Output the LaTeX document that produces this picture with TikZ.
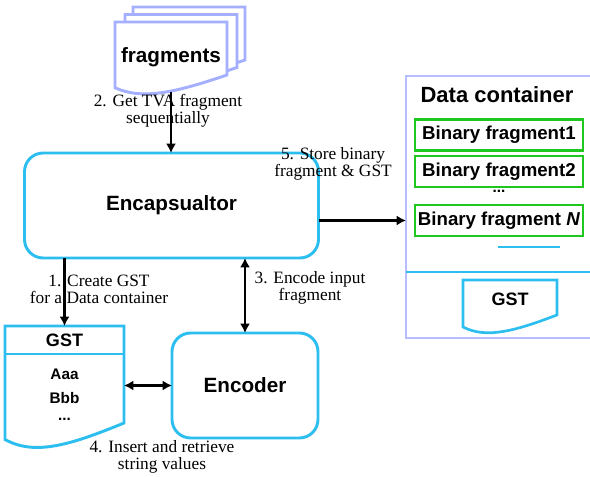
\documentclass[tikz,border=0pt]{standalone}
\usepackage{fontspec}
\setmainfont{Liberation Serif}
\newfontfamily\boxfont{Liberation Sans}
\usetikzlibrary{positioning, arrows.meta, calc}

\definecolor{sheetblue}{RGB}{165,175,255}
\definecolor{dcblue}{RGB}{182,190,255}
\definecolor{boxcyan}{RGB}{45,190,240}
\definecolor{bingreen}{RGB}{30,200,30}

% wavy-bottom document outline round a node: #1 node, #2 draw options, #3 rise of the right end
\newcommand{\docoutline}[3]{%
  \draw[#2] ($(#1.south west)+(0,-0.25*#3)$) -- (#1.north west) -- (#1.north east)
    -- ($(#1.south east)+(0,-#3)$)
    .. controls ($(#1.south west)!0.55!(#1.south east)$)
    and ($(#1.south west)!0.25!(#1.south east)+(0,0.5*#3)$) .. cycle;}

\begin{document}
\begin{tikzpicture}[
  x=0.75pt, y=-0.75pt,
  font=\boxfont,
  block/.style={draw=boxcyan, line width=2.2pt, rounded corners=14pt, minimum height=78.75pt,
    outer sep=0pt, font=\boxfont\fontsize{15.5}{17}\selectfont\bfseries},
  sheet/.style={minimum width=84pt, minimum height=52.5pt, outer sep=0pt, inner sep=0pt},
  binbox/.style={draw=bingreen, line width=2pt, minimum width=126pt, minimum height=23.25pt,
    inner sep=0pt, font=\boxfont\fontsize{14}{16}\selectfont\bfseries},
  big/.style={font=\boxfont\fontsize{15.5}{17}\selectfont\bfseries},
  small/.style={font=\boxfont\fontsize{11.5}{13}\selectfont\bfseries},
  lbl/.style={font=\rmfamily\fontsize{13}{12.6}\selectfont, align=center, inner sep=0pt},
  arr/.style={line width=2.2pt, -{Latex[length=7pt,width=7.5pt]}},
  darr/.style={line width=2.2pt, {Latex[length=7pt,width=7.5pt]}-{Latex[length=7pt,width=7.5pt]}},
]
\useasboundingbox (0,0) rectangle (590,477);

% --- stacked fragment sheets (back to front)
\node[sheet] (frag3) at (189,42) {};
\node[sheet] (frag2) at (181,49.5) {};
\node[sheet] (frag) at (171,57) {};
\docoutline{frag3}{draw=sheetblue, line width=2.2pt, fill=white}{17}
\docoutline{frag2}{draw=sheetblue, line width=2.2pt, fill=white}{17}
\docoutline{frag}{draw=sheetblue, line width=2.2pt, fill=white}{17}
\node[big] (fragtxt) at (frag) {fragments};

% --- the two processing blocks
\node[block, minimum width=220.5pt] (enc) at (171.5,205.5) {Encapsualtor};
\node[block, minimum width=109.5pt] (encd) at (245,385.5) {Encoder};

% --- GST table (left)
\node[minimum width=89.25pt, minimum height=89.25pt, outer sep=0pt] (gst) at (64.5,385.5) {};
\docoutline{gst}{draw=boxcyan, line width=2.2pt}{22}
\draw[boxcyan, line width=1pt] ($(gst.north west)+(0,28)$) -- ($(gst.north east)+(0,28)$);
\node[font=\boxfont\fontsize{13.5}{15}\selectfont\bfseries] (gsttitle) at (64.5,340) {GST};
\node[small] (gsta) at (64.5,374) {Aaa};
\node[small] (gstb) at (64.5,398) {Bbb};
\node[small] (gstdots) at (64.5,419) {...};

% --- data container (right, runs off the edge)
\node[minimum width=138pt, minimum height=196.5pt, outer sep=0pt] (dc) at (498,207) {};
\draw[dcblue, line width=2pt] (dc.north east) -- (dc.north west) -- (dc.south west) -- (dc.south east);
\node[font=\boxfont\fontsize{16.5}{18}\selectfont\bfseries] (dctitle) at (497,95) {Data container};
\node[binbox] (bin1) at (499,135) {Binary fragment1};
\node[binbox] (bin2) at (499,171.5) {Binary fragment2};
\node[small] (bindots) at (499,191) {...};
\node[binbox] (bin3) at (499,220.5) {Binary fragment \textit{N}};
\draw[boxcyan, line width=1pt] (498,247) -- (560,247);
\draw[boxcyan, line width=1pt] (dc.west |- 0,272) -- (dc.east |- 0,272);
\node[minimum width=70.5pt, minimum height=38.25pt, outer sep=0pt] (gst2) at (510,305.5) {};
\docoutline{gst2}{draw=boxcyan, line width=2pt}{16}
\node[font=\boxfont\fontsize{13.5}{15}\selectfont\bfseries] (gst2txt) at (510,299) {GST};

% --- step labels
\node[lbl] (lab2) at (168,111) {2. Get TVA fragment\\sequentially};
\node[lbl] (lab1) at (99,289) {1. Create GST\\for a Data container};
\node[lbl] (lab3) at (310,288) {3. Encode input\\fragment};
\node[lbl] (lab4) at (162,457) {4. Insert and retrieve\\string values};
\node[lbl] (lab5) at (333,164) {5. Store binary\\fragment \& GST};

% --- connectors
\draw[arr] (frag.south) -- (frag.south |- enc.north);
\draw[arr] (enc.south -| gst.north) -- (gst.north);
\draw[darr] (enc.south -| encd.north) -- (encd.north);
\draw[darr] (gst.east) -- (encd.west);
\draw[arr] (enc.east |- bin3) -- (bin3 -| dc.west);

\end{tikzpicture}
\end{document}
